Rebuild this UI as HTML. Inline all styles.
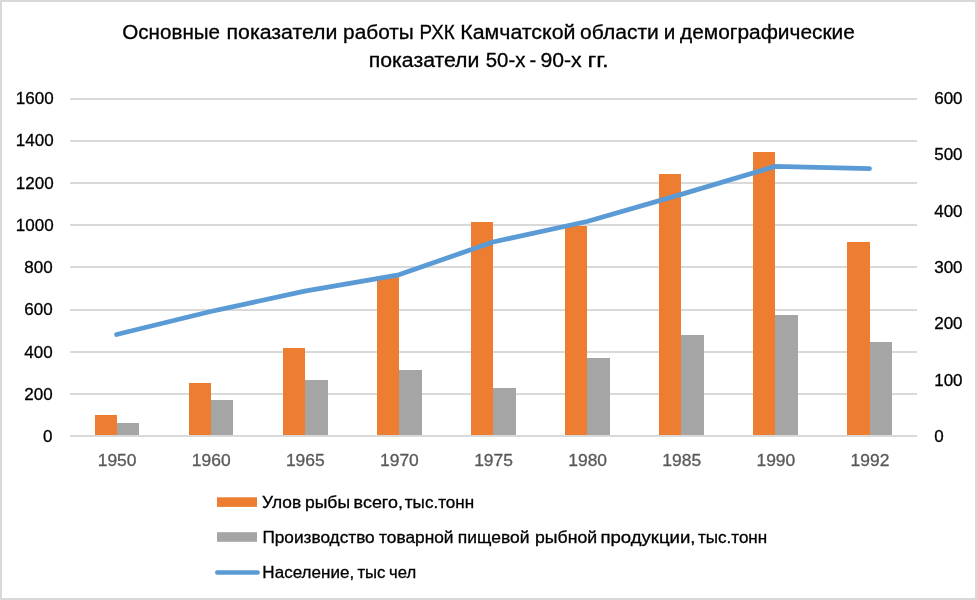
<!DOCTYPE html>
<html lang="ru"><head><meta charset="utf-8"><title>Основные показатели работы РХК Камчатской области</title>
<style>html,body{margin:0;padding:0;background:#fff}svg{display:block}text{font-family:"Liberation Sans",sans-serif;stroke-width:.3px}</style></head><body>
<svg width="977" height="600" viewBox="0 0 977 600">
<rect x="0" y="0" width="977" height="600" fill="#fff"/>
<rect x="1" y="1" width="975" height="598" fill="none" stroke="#d9d9d9" stroke-width="2"/>
<g fill="#d9d9d9">
<rect x="70" y="98" width="847" height="2"/>
<rect x="70" y="140" width="847" height="2"/>
<rect x="70" y="182" width="847" height="2"/>
<rect x="70" y="224" width="847" height="2"/>
<rect x="70" y="266" width="847" height="2"/>
<rect x="70" y="309" width="847" height="2"/>
<rect x="70" y="351" width="847" height="2"/>
<rect x="70" y="393" width="847" height="2"/>
<rect x="70" y="435" width="847" height="2"/>
</g>
<g fill="#ed7d31">
<rect x="95" y="415" width="22" height="20"/>
<rect x="189" y="383" width="22" height="52"/>
<rect x="283" y="348" width="22" height="87"/>
<rect x="377" y="276" width="22" height="159"/>
<rect x="471" y="222" width="22" height="213"/>
<rect x="565" y="226" width="22" height="209"/>
<rect x="659" y="174" width="22" height="261"/>
<rect x="753" y="152" width="22" height="283"/>
<rect x="847" y="242" width="23" height="193"/>
</g><g fill="#a5a5a5">
<rect x="117" y="423" width="22" height="12"/>
<rect x="211" y="400" width="22" height="35"/>
<rect x="305" y="380" width="23" height="55"/>
<rect x="399" y="370" width="23" height="65"/>
<rect x="493" y="388" width="23" height="47"/>
<rect x="587" y="358" width="23" height="77"/>
<rect x="681" y="335" width="23" height="100"/>
<rect x="775" y="315" width="23" height="120"/>
<rect x="870" y="342" width="22" height="93"/>
</g>
<polyline points="116.56,334.50 210.67,311.50 304.78,291.20 398.89,274.80 493.00,242.00 587.11,221.50 681.22,194.40 775.33,166.40 869.44,168.60" fill="none" stroke="#5b9bd5" stroke-width="4.8" stroke-linecap="round" stroke-linejoin="round"/>
<g font-size="17" fill="#000" stroke="#000" text-anchor="end">
<text x="53.7" y="103.9">1600</text>
<text x="53.7" y="145.9">1400</text>
<text x="53.7" y="188.9">1200</text>
<text x="53.7" y="230.9">1000</text>
<text x="52.7" y="272.9">800</text>
<text x="52.7" y="314.9">600</text>
<text x="52.7" y="357.9">400</text>
<text x="52.7" y="399.9">200</text>
<text x="52.5" y="441.9">0</text>
</g>
<g font-size="17" fill="#000" stroke="#000" text-anchor="start">
<text x="934.2" y="103.9">600</text>
<text x="934.2" y="159.9">500</text>
<text x="934.2" y="216.9">400</text>
<text x="934.2" y="272.9">300</text>
<text x="934.2" y="328.9">200</text>
<text x="934.2" y="385.9">100</text>
<text x="934.2" y="441.9">0</text>
</g>
<g font-size="16.5" fill="#595959" stroke="#595959" text-anchor="middle">
<text x="117.11" y="465.9" textLength="38.8" lengthAdjust="spacingAndGlyphs">1950</text>
<text x="211.22" y="465.9" textLength="38.8" lengthAdjust="spacingAndGlyphs">1960</text>
<text x="305.33" y="465.9" textLength="38.8" lengthAdjust="spacingAndGlyphs">1965</text>
<text x="399.44" y="465.9" textLength="38.8" lengthAdjust="spacingAndGlyphs">1970</text>
<text x="493.55" y="465.9" textLength="38.8" lengthAdjust="spacingAndGlyphs">1975</text>
<text x="587.66" y="465.9" textLength="38.8" lengthAdjust="spacingAndGlyphs">1980</text>
<text x="681.77" y="465.9" textLength="38.8" lengthAdjust="spacingAndGlyphs">1985</text>
<text x="775.88" y="465.9" textLength="38.8" lengthAdjust="spacingAndGlyphs">1990</text>
<text x="869.99" y="465.9" textLength="38.8" lengthAdjust="spacingAndGlyphs">1992</text>
</g>
<rect x="217" y="497.3" width="40" height="9.6" fill="#ed7d31"/>
<rect x="217" y="532.2" width="40" height="9.6" fill="#a5a5a5"/>
<line x1="217.3" y1="572.5" x2="257.6" y2="572.5" stroke="#5b9bd5" stroke-width="4.6" stroke-linecap="round"/>
<g font-size="20" fill="#000" stroke="#000">
<text x="122.30" y="38.6" textLength="97.75" lengthAdjust="spacingAndGlyphs">Основные</text>
<text x="226.54" y="38.6" textLength="110.92" lengthAdjust="spacingAndGlyphs">показатели</text>
<text x="343.09" y="38.6" textLength="70.72" lengthAdjust="spacingAndGlyphs">работы</text>
<text x="419.52" y="38.6" textLength="35.18" lengthAdjust="spacingAndGlyphs">РХК</text>
<text x="460.29" y="38.6" textLength="115.18" lengthAdjust="spacingAndGlyphs">Камчатской</text>
<text x="580.10" y="38.6" textLength="78.70" lengthAdjust="spacingAndGlyphs">области</text>
<text x="663.75" y="38.6" textLength="11.55" lengthAdjust="spacingAndGlyphs">и</text>
<text x="680.00" y="38.6" textLength="174.89" lengthAdjust="spacingAndGlyphs">демографические</text>
</g>
<g font-size="20" fill="#000" stroke="#000">
<text x="368.74" y="66.5" textLength="110.66" lengthAdjust="spacingAndGlyphs">показатели</text>
<text x="485.77" y="66.5" textLength="39.63" lengthAdjust="spacingAndGlyphs">50-х</text>
<text x="529.46" y="66.5" textLength="6.73" lengthAdjust="spacingAndGlyphs">-</text>
<text x="540.42" y="66.5" textLength="41.22" lengthAdjust="spacingAndGlyphs">90-х</text>
<text x="587.46" y="66.5" textLength="21.27" lengthAdjust="spacingAndGlyphs">гг.</text>
</g>
<g font-size="16.5" fill="#000" stroke="#000">
<text x="262.10" y="507.6" textLength="39.08" lengthAdjust="spacingAndGlyphs">Улов</text>
<text x="305.00" y="507.6" textLength="45.00" lengthAdjust="spacingAndGlyphs">рыбы</text>
<text x="353.64" y="507.6" textLength="49.32" lengthAdjust="spacingAndGlyphs">всего,</text>
<text x="404.80" y="507.6" textLength="69.34" lengthAdjust="spacingAndGlyphs">тыс.тонн</text>
</g>
<g font-size="16.5" fill="#000" stroke="#000">
<text x="262.40" y="543.0" textLength="112.30" lengthAdjust="spacingAndGlyphs">Производство</text>
<text x="379.10" y="543.0" textLength="74.44" lengthAdjust="spacingAndGlyphs">товарной</text>
<text x="457.80" y="543.0" textLength="71.70" lengthAdjust="spacingAndGlyphs">пищевой</text>
<text x="535.00" y="543.0" textLength="62.15" lengthAdjust="spacingAndGlyphs">рыбной</text>
<text x="600.44" y="543.0" textLength="95.07" lengthAdjust="spacingAndGlyphs">продукции,</text>
<text x="698.00" y="543.0" textLength="69.18" lengthAdjust="spacingAndGlyphs">тыс.тонн</text>
</g>
<g font-size="16.5" fill="#000" stroke="#000">
<text x="262.39" y="577.6" textLength="91.77" lengthAdjust="spacingAndGlyphs">Население,</text>
<text x="357.46" y="577.6" textLength="27.98" lengthAdjust="spacingAndGlyphs">тыс</text>
<text x="389.06" y="577.6" textLength="27.09" lengthAdjust="spacingAndGlyphs">чел</text>
</g>
</svg></body></html>
